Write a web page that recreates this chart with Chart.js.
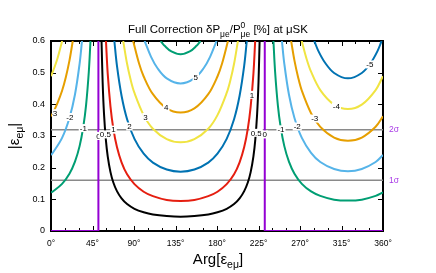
<!DOCTYPE html>
<html>
<head>
<meta charset="utf-8">
<script src="https://cdn.jsdelivr.net/npm/chart.js@4.4.0/dist/chart.umd.min.js"></script>
<style>
html,body{margin:0;padding:0;background:#fff;}
</style>
</head>
<body>
<canvas id="myChart" width="436" height="273"></canvas>
<script>
// axis ticks
var xTicks = [0, 45, 90, 135, 180, 225, 270, 315, 360];
var yTicks = [0, 0.1, 0.2, 0.3, 0.4, 0.5, 0.6];

// contours, points are [Arg in degrees, |eps|]
var c05 = [[54.8,.6],[56,.47],[57.5,.369],[59.5,.288],[61.5,.236],[64.5,.186],[67.5,.154],[71.5,.126],[76.5,.103],[82.5,.085],[90.5,.07],[100.5,.059],[110.5,.052],[125.5,.047],[140.5,.045],[155.5,.047],[170.5,.052],[180.5,.059],[190.5,.07],[198.5,.085],[204.5,.103],[209.5,.126],[213.5,.154],[216.5,.186],[219.5,.236],[221.5,.288],[223.5,.369],[225,.47],[226.2,.6]];
var c1 = [[59.6,.6],[61.5,.497],[64.5,.393],[67.5,.325],[71.5,.265],[76.5,.217],[82.5,.179],[90.5,.148],[100.5,.124],[110.5,.11],[125.5,.098],[140.5,.095],[155.5,.098],[170.5,.11],[180.5,.124],[190.5,.148],[198.5,.179],[204.5,.217],[209.5,.265],[213.5,.325],[216.5,.393],[219.5,.497],[221.4,.6]];
var c2 = [[68.7,.6],[71.5,.522],[76.5,.427],[82.5,.353],[90.5,.291],[100.5,.244],[110.5,.216],[125.5,.194],[140.5,.187],[155.5,.194],[170.5,.216],[180.5,.244],[190.5,.291],[198.5,.353],[204.5,.427],[209.5,.522],[212.3,.6]];
var c3 = [[78.3,.6],[82.5,.528],[86.5,.476],[90.5,.436],[100.5,.366],[110.5,.323],[125.5,.29],[140.5,.28],[155.5,.29],[170.5,.323],[180.5,.366],[190.5,.436],[194.5,.476],[198.5,.528],[202.7,.6]];
var c4 = [[89.1,.6],[95.5,.529],[100.5,.488],[110.5,.432],[125.5,.387],[140.5,.374],[155.5,.387],[170.5,.432],[180.5,.488],[185.5,.529],[191.9,.6]];
var c5 = [[101.5,.6],[108.5,.55],[115.5,.514],[125.5,.482],[140.5,.466],[155.5,.482],[165.5,.514],[172.5,.55],[179.5,.6]];
var c6 = [[118.9,.6],[123.5,.584],[130.5,.567],[140.5,.558],[150.5,.567],[157.5,.584],[162.1,.6]];

var m1a = [[241.2,.6],[243,.503],[246,.397],[249,.329],[253,.268],[258,.219],[264,.181],[272,.149],[282,.125],[292,.111],[307,.099],[322,.096],[337,.099],[352,.111],[360,.122]];
var m1b = [[0,.122],[2,.125],[12,.149],[20,.181],[26,.219],[31,.268],[35,.329],[38,.397],[41,.503],[42.8,.6]];
var m2a = [[250.4,.6],[253,.528],[258,.431],[264,.357],[272,.294],[282,.247],[292,.218],[307,.196],[322,.189],[337,.196],[352,.218],[360,.24]];
var m2b = [[0,.24],[2,.247],[12,.294],[20,.357],[26,.431],[31,.528],[33.6,.6]];
var m3a = [[260.4,.6],[264,.538],[268,.485],[272,.443],[282,.372],[292,.329],[307,.295],[322,.285],[337,.295],[352,.329],[360,.362]];
var m3b = [[0,.362],[2,.372],[7,.404],[12,.443],[16,.485],[20,.538],[23.6,.6]];
var m4a = [[271.9,.6],[277,.545],[282,.503],[292,.445],[307,.399],[322,.385],[337,.399],[352,.445],[360,.489]];
var m4b = [[0,.489],[2,.503],[7,.545],[12.1,.6]];
var m5 = [[285.5,.6],[290,.568],[297,.532],[307,.499],[322,.482],[337,.499],[347,.532],[354,.568],[358.5,.6]];

var zeroA = [[0,0],[51.4,0],[51.4,.6]];
var zeroB = [[231.8,.6],[231.8,0],[360,0]];

// 1 sigma / 2 sigma
var sigmaAbs = [0.16, 0.32];
var sigmaNames = ['1σ', '2σ'];

// contour labels
var labelText = ['-3','-2','-1','0','0.5','1','2','3','4','5','1','0.5','0','-1','-2','-3','-4','-5'];
var labelArg = [3, 20.5, 35, 51.4, 59, 67.8, 85, 102.5, 125, 157, 218, 222.5, 231.8, 249.4, 267, 286, 309.5, 345.7];
var labelAbs = [.372, .36, .325, .30, .305, .32, .33, .36, .39, .486, .43, .31, .305, .321, .33, .355, .394, .526];

var PURPLE = '#9400d3', GREEN = '#009e73', LBLUE = '#56b4e9', ORANGE = '#e69f00',
    YELLOW = '#f0e442', BLUE = '#0072b2', RED = '#e51e10', BLACK = '#000000';
var FONT = '"Liberation Sans", Arial, Helvetica, sans-serif';

function toXY(arr){ return arr.map(function(p){ return {x:p[0], y:p[1]}; }); }
function curve(arr, color, w, order, tension){
  return {data: toXY(arr), borderColor: color, borderWidth: w, showLine: true, pointRadius: 0,
          tension: tension, fill: false, order: order};
}

var datasets = [
  curve(zeroA, PURPLE, 2, 0, 0), curve(zeroB, PURPLE, 2, 0, 0),
  curve(c05, BLACK, 2, 1, 0.35), curve(c1, RED, 2, 1, 0.35), curve(c2, BLUE, 2, 1, 0.35),
  curve(c3, YELLOW, 2, 1, 0.35), curve(c4, ORANGE, 2, 1, 0.35), curve(c5, LBLUE, 2, 1, 0.35),
  curve(c6, GREEN, 2, 1, 0.35),
  curve(m1a, GREEN, 2, 1, 0.35), curve(m1b, GREEN, 2, 1, 0.35),
  curve(m2a, LBLUE, 2, 1, 0.35), curve(m2b, LBLUE, 2, 1, 0.35),
  curve(m3a, ORANGE, 2, 1, 0.35), curve(m3b, ORANGE, 2, 1, 0.35),
  curve(m4a, YELLOW, 2, 1, 0.35), curve(m4b, YELLOW, 2, 1, 0.35),
  curve(m5, BLUE, 2, 1, 0.35)
];
sigmaAbs.forEach(function(v){
  datasets.push(curve([[0, v], [360, v]], '#8a8a8a', 1.5, 2, 0));
});

// draws text with sub/superscripts, centred on cx
function richText(ctx, parts, cx, by){
  var total = 0;
  parts.forEach(function(p){
    ctx.font = p.size + 'px ' + FONT;
    var w = ctx.measureText(p.t).width;
    if (p.t2) w = Math.max(w, ctx.measureText(p.t2).width);
    p.w = w; total += w;
  });
  var x = cx - total / 2;
  ctx.textAlign = 'left';
  ctx.textBaseline = 'alphabetic';
  parts.forEach(function(p){
    ctx.font = p.size + 'px ' + FONT;
    ctx.fillText(p.t, x, by + (p.dy || 0));
    if (p.t2) ctx.fillText(p.t2, x, by + p.dy2);
    x += p.w;
  });
}

var frame = {
  id: 'frame',
  beforeDatasetsDraw: function(chart){
    var ctx = chart.ctx, a = chart.chartArea, xs = chart.scales.x, ys = chart.scales.y;
    ctx.save();
    ctx.strokeStyle = '#000';
    ctx.lineWidth = 1;
    ctx.beginPath();
    for (var d = 0; d <= 360; d += 15) {
      var px = Math.round(xs.getPixelForValue(d)) + 0.5;
      var len = (d % 45 === 0) ? 5 : 3;
      ctx.moveTo(px, a.bottom); ctx.lineTo(px, a.bottom - len);
      ctx.moveTo(px, a.top); ctx.lineTo(px, a.top + len);
    }
    yTicks.forEach(function(v){
      var py = Math.round(ys.getPixelForValue(v)) + 0.5;
      ctx.moveTo(a.left, py); ctx.lineTo(a.left + 5, py);
      ctx.moveTo(a.right, py); ctx.lineTo(a.right - 5, py);
    });
    ctx.stroke();
    ctx.lineWidth = 2;
    ctx.strokeRect(a.left, a.top, a.right - a.left, a.bottom - a.top);
    ctx.restore();
  },
  afterDatasetsDraw: function(chart){
    var ctx = chart.ctx, a = chart.chartArea, xs = chart.scales.x, ys = chart.scales.y;
    ctx.save();
    ctx.beginPath();
    ctx.rect(a.left + 1, a.top + 1, a.right - a.left - 2, a.bottom - a.top - 2);
    ctx.clip();
    ctx.font = '8px ' + FONT;
    ctx.textAlign = 'center';
    ctx.textBaseline = 'middle';
    labelText.forEach(function(t, i){
      var px = xs.getPixelForValue(labelArg[i]), py = ys.getPixelForValue(labelAbs[i]);
      var w = ctx.measureText(t).width;
      ctx.fillStyle = '#fff';
      ctx.fillRect(px - w / 2 - 1, py - 4, w + 2, 8);
      ctx.fillStyle = '#000';
      ctx.fillText(t, px, py + 0.5);
    });
    ctx.restore();

    ctx.save();
    ctx.fillStyle = '#a93ae6';
    ctx.font = '8.5px ' + FONT;
    ctx.textAlign = 'left';
    ctx.textBaseline = 'middle';
    sigmaAbs.forEach(function(v, i){
      ctx.fillText(sigmaNames[i], a.right + 6, ys.getPixelForValue(v));
    });

    ctx.fillStyle = '#000';
    richText(ctx, [
      {t: 'Full Correction δP', size: 11.5},
      {t: 'μe', size: 8.5, dy: 3.5},
      {t: '/P', size: 11.5},
      {t: '0', size: 8.5, dy: -5.5, t2: 'μe', dy2: 3.5},
      {t: ' [%] at μSK', size: 11.5}
    ], 218, 33);

    richText(ctx, [
      {t: 'Arg[ε', size: 15},
      {t: 'eμ', size: 10.5, dy: 4},
      {t: ']', size: 15}
    ], 218, 264);

    ctx.translate(19, 136);
    ctx.rotate(-Math.PI / 2);
    richText(ctx, [
      {t: '|ε', size: 15},
      {t: 'eμ', size: 10.5, dy: 4},
      {t: '|', size: 15}
    ], 0, 0);
    ctx.restore();
  }
};

var ctx = document.getElementById('myChart');
var grafica = new Chart(ctx, {
  type: 'line',
  data: {datasets: datasets},
  options: {
    responsive: false,
    animation: false,
    devicePixelRatio: 1,
    layout: {padding: {left: 0, right: 53, top: 41, bottom: 0}},
    plugins: {legend: {display: false}, tooltip: {enabled: false}, title: {display: false}},
    scales: {
      x: {
        type: 'linear', min: 0, max: 360,
        afterBuildTicks: function(s){ s.ticks = xTicks.map(function(v){ return {value: v}; }); },
        afterFit: function(s){ s.height = 42; },
        grid: {display: false, drawTicks: false},
        border: {display: false},
        ticks: {
          color: '#000', padding: 8, maxRotation: 0, autoSkip: false,
          font: {family: FONT, size: 8.5},
          callback: function(v){ return v + '°'; }
        }
      },
      y: {
        type: 'linear', min: 0, max: 0.6,
        afterBuildTicks: function(s){ s.ticks = yTicks.map(function(v){ return {value: v}; }); },
        afterFit: function(s){ s.width = 51; },
        grid: {display: false, drawTicks: false},
        border: {display: false},
        ticks: {
          color: '#000', padding: 6, autoSkip: false,
          font: {family: FONT, size: 9},
          callback: function(v){ return v === 0 ? '0' : v.toFixed(1); }
        }
      }
    }
  },
  plugins: [frame]
});
</script>
</body>
</html>
